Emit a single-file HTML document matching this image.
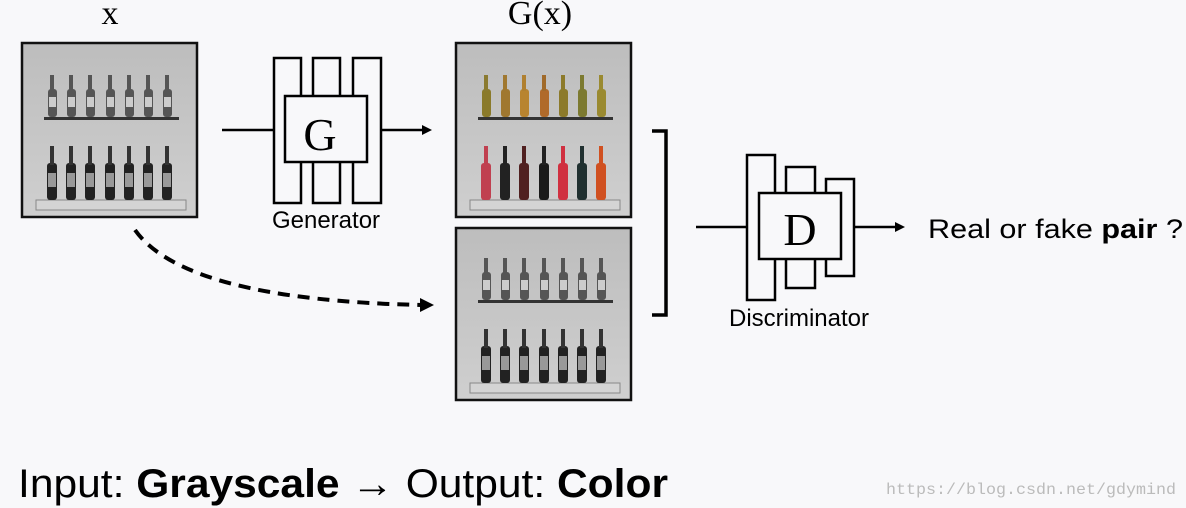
<!DOCTYPE html>
<html><head><meta charset="utf-8"><style>
html,body{margin:0;padding:0;background:#f8f8fa;}
svg{display:block;}
</style></head><body>
<svg width="1186" height="508" viewBox="0 0 1186 508" xmlns="http://www.w3.org/2000/svg">
<defs>
<linearGradient id="bg" x1="0" y1="0" x2="0" y2="1"><stop offset="0" stop-color="#bdbdbd"/><stop offset="1" stop-color="#cfcfcf"/></linearGradient>
<g id="photo">
<rect x="0" y="0" width="175" height="174" fill="url(#bg)"/>
<rect x="22" y="74" width="135" height="3" fill="#333"/>
<rect x="14" y="157" width="150" height="10" fill="#d4d4d4" stroke="#888" stroke-width="1"/>
</g>
<g id="b1"><rect x="-4" y="46" width="9" height="28" rx="3" fill="#555"/><rect x="-2" y="32" width="4" height="16" fill="#555"/><rect x="-3" y="54" width="7" height="10" fill="#ccc"/></g>
<g id="b2"><rect x="-5" y="120" width="10" height="37" rx="3" fill="#222"/><rect x="-2" y="103" width="4" height="19" fill="#333"/><rect x="-4" y="130" width="8" height="14" fill="#999"/></g>
</defs>

<text x="110" y="24" font-family="Liberation Serif, serif" font-size="34" text-anchor="middle">x</text>
<text x="540" y="24" font-family="Liberation Serif, serif" font-size="34" text-anchor="middle">G(x)</text>

<g transform="translate(22,43)">
<use href="#photo"/>
<use href="#b1" x="30"/><use href="#b1" x="49"/><use href="#b1" x="68"/><use href="#b1" x="88"/><use href="#b1" x="107"/><use href="#b1" x="126"/><use href="#b1" x="145"/>
<use href="#b2" x="30"/><use href="#b2" x="49"/><use href="#b2" x="68"/><use href="#b2" x="88"/><use href="#b2" x="107"/><use href="#b2" x="126"/><use href="#b2" x="145"/>
<rect x="0" y="0" width="175" height="174" fill="none" stroke="#111" stroke-width="2.5"/>
</g>

<g transform="translate(456,43)">
<use href="#photo"/>
<rect x="26" y="46" width="9" height="28" rx="3" fill="#8a7a2a"/><rect x="45" y="46" width="9" height="28" rx="3" fill="#a07830"/><rect x="64" y="46" width="9" height="28" rx="3" fill="#b88430"/><rect x="84" y="46" width="9" height="28" rx="3" fill="#b06a2a"/><rect x="103" y="46" width="9" height="28" rx="3" fill="#8c7a2a"/><rect x="122" y="46" width="9" height="28" rx="3" fill="#7c7a30"/><rect x="141" y="46" width="9" height="28" rx="3" fill="#9a8a30"/>
<rect x="28" y="32" width="4" height="16" fill="#8a7a30"/><rect x="47" y="32" width="4" height="16" fill="#a07830"/><rect x="66" y="32" width="4" height="16" fill="#b08030"/><rect x="86" y="32" width="4" height="16" fill="#a06a2a"/><rect x="105" y="32" width="4" height="16" fill="#8c7a2a"/><rect x="124" y="32" width="4" height="16" fill="#7c7a30"/><rect x="143" y="32" width="4" height="16" fill="#9a8a30"/>
<rect x="25" y="120" width="10" height="37" rx="3" fill="#c04050"/><rect x="44" y="120" width="10" height="37" rx="3" fill="#222"/><rect x="63" y="120" width="10" height="37" rx="3" fill="#502020"/><rect x="83" y="120" width="10" height="37" rx="3" fill="#1a1a1a"/><rect x="102" y="120" width="10" height="37" rx="3" fill="#d03040"/><rect x="121" y="120" width="10" height="37" rx="3" fill="#203030"/><rect x="140" y="120" width="10" height="37" rx="3" fill="#d05020"/>
<rect x="28" y="103" width="4" height="19" fill="#c04050"/><rect x="47" y="103" width="4" height="19" fill="#222"/><rect x="66" y="103" width="4" height="19" fill="#502020"/><rect x="86" y="103" width="4" height="19" fill="#222"/><rect x="105" y="103" width="4" height="19" fill="#d03040"/><rect x="124" y="103" width="4" height="19" fill="#203030"/><rect x="143" y="103" width="4" height="19" fill="#d05020"/>
<rect x="0" y="0" width="175" height="174" fill="none" stroke="#111" stroke-width="2.5"/>
</g>

<g transform="translate(456,228)">
<rect x="0" y="0" width="175" height="172" fill="url(#bg)"/>
<rect x="22" y="72" width="135" height="3" fill="#333"/>
<rect x="14" y="155" width="150" height="10" fill="#d4d4d4" stroke="#888" stroke-width="1"/>
<g transform="translate(0,-2)">
<use href="#b1" x="30"/><use href="#b1" x="49"/><use href="#b1" x="68"/><use href="#b1" x="88"/><use href="#b1" x="107"/><use href="#b1" x="126"/><use href="#b1" x="145"/>
<use href="#b2" x="30"/><use href="#b2" x="49"/><use href="#b2" x="68"/><use href="#b2" x="88"/><use href="#b2" x="107"/><use href="#b2" x="126"/><use href="#b2" x="145"/>
</g>
<rect x="0" y="0" width="175" height="172" fill="none" stroke="#111" stroke-width="2.5"/>
</g>

<g stroke="#000" stroke-width="2.5" fill="#f8f8fa">
<line x1="222" y1="130" x2="274" y2="130"/>
<rect x="274" y="58" width="27" height="145"/>
<rect x="313" y="58" width="27" height="145"/>
<rect x="353" y="58" width="28" height="145"/>
<rect x="285" y="96" width="82" height="66"/>
<line x1="381" y1="130" x2="426" y2="130"/>
</g>
<polygon points="432,130 422,125 422,135" fill="#000"/>
<text x="320" y="150" font-family="Liberation Serif, serif" font-size="46" text-anchor="middle">G</text>
<text x="326" y="228" font-family="Liberation Sans, sans-serif" font-size="24" text-anchor="middle">Generator</text>

<path d="M135 230 Q185 300 422 305" fill="none" stroke="#000" stroke-width="4" stroke-dasharray="12,8"/>
<polygon points="434,305 420,298 420,312" fill="#000"/>

<path d="M652 131 H666 V315 H652" fill="none" stroke="#000" stroke-width="3.5"/>

<g stroke="#000" stroke-width="2.5" fill="#f8f8fa">
<line x1="696" y1="227" x2="747" y2="227"/>
<rect x="747" y="155" width="28" height="145"/>
<rect x="786" y="167" width="29" height="121"/>
<rect x="826" y="179" width="28" height="97"/>
<rect x="759" y="193" width="82" height="66"/>
<line x1="854" y1="227" x2="898" y2="227"/>
</g>
<polygon points="905,227 895,222 895,232" fill="#000"/>
<text x="800" y="245" font-family="Liberation Serif, serif" font-size="46" text-anchor="middle">D</text>
<text x="799" y="326" font-family="Liberation Sans, sans-serif" font-size="24" text-anchor="middle">Discriminator</text>
<text x="928" y="238" font-family="Liberation Sans, sans-serif" font-size="27" textLength="255" lengthAdjust="spacingAndGlyphs">Real or fake <tspan font-weight="bold">pair</tspan> ?</text>

<text x="18" y="497" font-family="Liberation Sans, sans-serif" font-size="40" textLength="650" lengthAdjust="spacingAndGlyphs">Input: <tspan font-weight="bold">Grayscale</tspan> → Output: <tspan font-weight="bold">Color</tspan></text>
<text x="1176" y="494" font-family="Liberation Mono, monospace" font-size="16" fill="#bbb" text-anchor="end" textLength="290" lengthAdjust="spacingAndGlyphs">https://blog.csdn.net/gdymind</text>
</svg>
</body></html>
